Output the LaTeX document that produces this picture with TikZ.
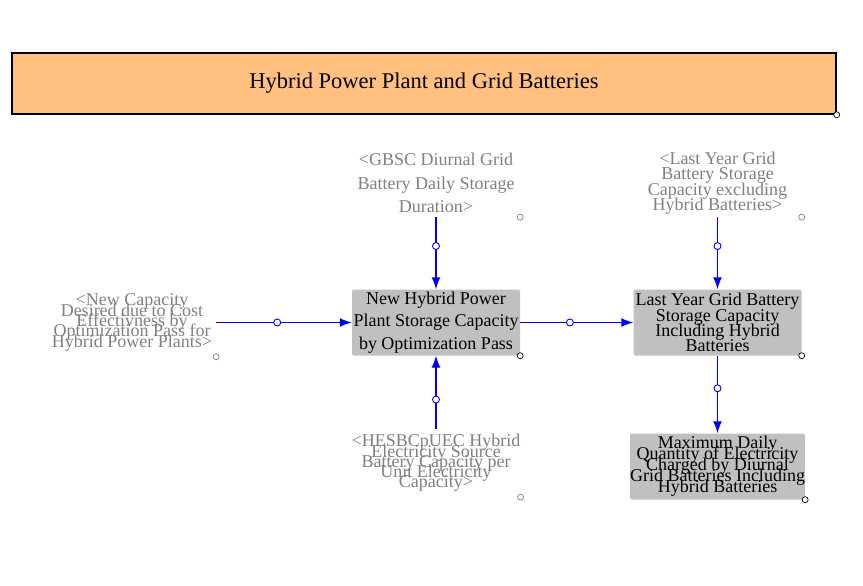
\documentclass[tikz,border=0pt]{standalone}
\usepackage{fontspec}
\setmainfont{Liberation Serif}
\usetikzlibrary{shapes, arrows.meta, positioning}
\definecolor{titleorange}{RGB}{255,192,128}
\definecolor{boxgray}{RGB}{192,192,192}
\definecolor{ghostgray}{RGB}{128,128,128}
\setlength{\lineskiplimit}{-100pt}
\tikzstyle{titlebar} = [draw=black, fill=titleorange, line width=1.5pt, minimum width=824pt, minimum height=61pt, inner sep=0pt, font=\fontsize{22.5}{26}\selectfont]
\tikzstyle{auxvar} = [fill=boxgray, rounded corners=2pt, minimum width=168pt, minimum height=66pt, inner sep=0pt, align=center]
\tikzstyle{ghostvar} = [text=ghostgray, minimum width=168pt, minimum height=68pt, inner sep=0pt, align=center]
\tikzstyle{link} = [draw=blue, line width=1.4pt, -{Latex[length=12pt,width=9pt]}]
\tikzstyle{valve} = [circle, draw=blue, fill=white, line width=0.9pt, minimum size=7pt, inner sep=0pt]
\tikzstyle{handle} = [circle, draw=black, fill=white, line width=0.7pt, minimum size=6pt, inner sep=0pt]
\tikzset{leading/.style={font=\fontsize{18}{#1}\selectfont}}

\begin{document}
\begin{tikzpicture}[x=1pt, y=-1pt]
	\useasboundingbox (0,0) rectangle (863,586);
	\node [titlebar] (title) at (424,83.5) {Hybrid Power Plant and Grid Batteries};
	\node [auxvar, leading=22.5] (newhybrid) at (436,322.5) {New Hybrid Power\\Plant Storage Capacity\\by Optimization Pass};
	\node [auxvar, leading=15.3] (lastyear) at (717.5,322.5) {Last Year Grid Battery\\Storage Capacity\\Including Hybrid\\Batteries};
	\node [auxvar, leading=11] (maxdaily) at (717.5,466.5) {Maximum Daily\\Quantity of Electricity\\Charged by Diurnal\\Grid Batteries Including\\Hybrid Batteries};
	\node [ghostvar, leading=23.5] (gbsc) at (436,183) {<GBSC Diurnal Grid\\Battery Daily Storage\\Duration>};
	\node [ghostvar, leading=15.5] (lastexcl) at (717.5,183) {<Last Year Grid\\Battery Storage\\Capacity excluding\\Hybrid Batteries>};
	\node [ghostvar, leading=10.3] (newcap) at (132,322.5) {<New Capacity\\Desired due to Cost\\Effectivness by\\Optimization Pass for\\Hybrid Power Plants>};
	\node [ghostvar, leading=10.3] (hesbc) at (436,463) {<HESBCpUEC Hybrid\\Electricity Source\\Battery Capacity per\\Unit Electricity\\Capacity>};
	\draw [link] (gbsc) -- node[valve, pos=0.4] (v1) {} (newhybrid);
	\draw [link] (newcap) -- node[valve, pos=0.45] (v2) {} (newhybrid);
	\draw [link] (hesbc) -- node[valve, pos=0.4] (v3) {} (newhybrid);
	\draw [link] (newhybrid) -- node[valve, pos=0.44] (v4) {} (lastyear);
	\draw [link] (lastexcl) -- node[valve, pos=0.4] (v5) {} (lastyear);
	\draw [link] (lastyear) -- node[valve, pos=0.42] (v6) {} (maxdaily);
	\node [handle] (h0) at (title.south east) {};
	\node [handle] (h1) at (newhybrid.south east) {};
	\node [handle] (h2) at (lastyear.south east) {};
	\node [handle] (h3) at (maxdaily.south east) {};
	\node [handle, draw=ghostgray] (h4) at (gbsc.south east) {};
	\node [handle, draw=ghostgray] (h5) at (lastexcl.south east) {};
	\node [handle, draw=ghostgray] (h6) at (newcap.south east) {};
	\node [handle, draw=ghostgray] (h7) at (hesbc.south east) {};
\end{tikzpicture}
\end{document}
